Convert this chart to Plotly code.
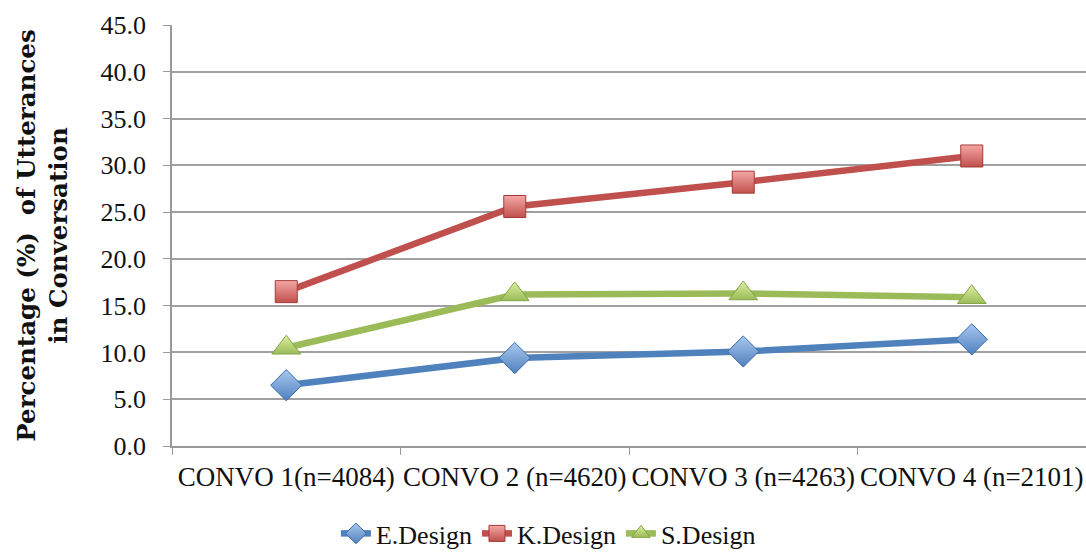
import plotly.graph_objects as go

categories = ["CONVO 1(n=4084)", "CONVO 2 (n=4620)", "CONVO 3 (n=4263)", "CONVO 4 (n=2101)"]
e_design = [6.5, 9.4, 10.1, 11.4]
k_design = [16.5, 25.6, 28.2, 31.0]
s_design = [10.5, 16.2, 16.3, 15.9]

series = [
    ("E.Design", e_design, "#4F81BD", "#3A6BA8", "#A9C8F0", "diamond", 24),
    ("K.Design", k_design, "#C0504D", "#A33B38", "#F5A8A5", "square", 22),
    ("S.Design", s_design, "#9BBB59", "#86A547", "#DCF0A0", "triangle-up", 25),
]

fig = go.Figure()
for name, vals, col, edge, light, sym, size in series:
    fig.add_trace(go.Scatter(
        x=categories, y=vals, name=name, mode="lines+markers",
        line=dict(color=col, width=6.5),
        marker=dict(symbol=sym, size=size, color=light,
                    gradient=dict(type="vertical", color=col),
                    line=dict(color=edge, width=1)),
    ))

serif = "Liberation Serif, DejaVu Serif, serif"
fig.update_layout(
    width=1086, height=557,
    margin=dict(l=172, r=0, t=25, b=111),
    paper_bgcolor="white", plot_bgcolor="white",
    font=dict(family=serif, size=26, color="#111111"),
    showlegend=True,
    legend=dict(orientation="h", xref="container", yref="container",
                x=0.505, xanchor="center", y=0.0, yanchor="bottom",
                font=dict(size=26), tracegroupgap=0),
    xaxis=dict(
        type="category", showgrid=False, showline=True, automargin=False,
        linecolor="#999999", linewidth=1.5, tickangle=0,
        ticks="outside", tickson="boundaries", ticklen=7, tickcolor="#999999",
        tickfont=dict(size=27), range=[-0.5, 3.5], ticklabelstandoff=6,
    ),
    yaxis=dict(
        range=[0, 45], dtick=5, tickformat=".1f", automargin=False,
        showgrid=True, gridcolor="#A0A0A0", gridwidth=1.5,
        showline=True, linecolor="#999999", linewidth=1.5,
        ticks="outside", ticklen=7, tickcolor="#999999",
        tickfont=dict(size=26), zeroline=False, ticklabelstandoff=12,
        title=dict(text="Percentage (%)  of Utterances<br>in Conversation",
                   font=dict(size=24.5, family="DejaVu Serif, serif", weight="bold"),
                   standoff=26),
    ),
)

fig.write_html("out.html")
